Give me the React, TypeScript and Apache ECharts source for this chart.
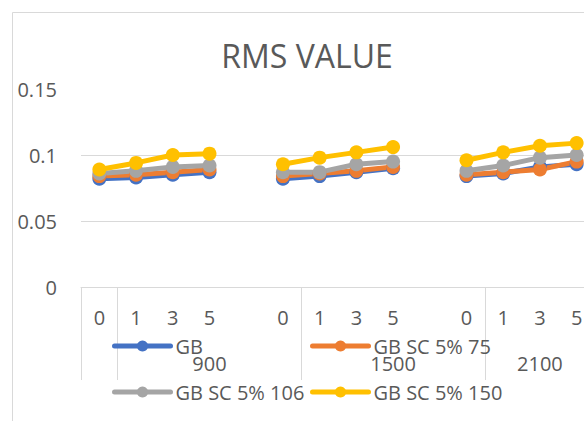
import React, { useEffect, useRef } from "react";
import * as echarts from "echarts";

const categories = ["0", "1", "3", "5", "", "0", "1", "3", "5", "", "0", "1", "3", "5"];
const groupLabels = ["", "", "", "900", "", "", "", "", "1500", "", "", "", "2100", ""];
const seriesNames = ["GB", "GB SC 5% 75", "GB SC 5% 106", "GB SC 5% 150"];
const gb = [0.082, 0.083, 0.085, 0.087, null, 0.082, 0.084, 0.087, 0.09, null, 0.084, 0.086, 0.091, 0.093];
const gb75 = [0.084, 0.085, 0.087, 0.089, null, 0.084, 0.086, 0.088, 0.091, null, 0.085, 0.087, 0.089, 0.095];
const gb106 = [0.086, 0.088, 0.091, 0.092, null, 0.087, 0.087, 0.093, 0.095, null, 0.088, 0.092, 0.098, 0.1];
const gb150 = [0.089, 0.094, 0.1, 0.101, null, 0.093, 0.098, 0.102, 0.106, null, 0.096, 0.102, 0.107, 0.109];
const yTicks = [0, 0.05, 0.1, 0.15];
const groupStarts = [0, 1, 6, 11];

const colors = ["#4472C4", "#ED7D31", "#A5A5A5", "#FFC000"];
const FONT = "Open Sans";
const TXT = "#595959";

export default function App() {
  const ref = useRef<HTMLDivElement>(null);
  useEffect(() => {
    if (!ref.current) return;
    const chart = echarts.init(ref.current, undefined, { renderer: "svg" });
    const data = [gb, gb75, gb106, gb150];
    const legendPos = [
      { left: 107, top: 331 },
      { left: 305, top: 331 },
      { left: 107, top: 377 },
      { left: 305, top: 377 },
    ];
    chart.setOption({
      animation: false,
      backgroundColor: "#ffffff",
      title: {
        text: "RMS VALUE",
        left: 302,
        top: 34,
        textAlign: "center",
        textStyle: { fontFamily: FONT, fontSize: 32, fontWeight: "normal", color: TXT },
      },
      graphic: [
        {
          type: "rect",
          shape: { x: 12.5, y: 12.5, width: 700, height: 500 },
          style: { fill: "none", stroke: "#d9d9d9", lineWidth: 1 },
          silent: true,
        },
      ],
      legend: seriesNames.map((n, i) => ({
        data: [n],
        left: legendPos[i].left,
        top: legendPos[i].top,
        itemWidth: 56,
        itemHeight: 14,
        selectedMode: false,
        lineStyle: { width: 5 },
        textStyle: { fontFamily: FONT, fontSize: 20, color: TXT },
      })),
      grid: { left: 81, top: 89, width: 514, height: 198, containLabel: false },
      xAxis: [
        {
          type: "category",
          data: categories,
          boundaryGap: true,
          axisLine: { show: true, lineStyle: { color: "#d9d9d9", width: 1 } },
          axisTick: {
            show: true,
            length: 93,
            interval: (idx: number) => groupStarts.indexOf(idx) >= 0,
            lineStyle: { color: "#d9d9d9", width: 1 },
          },
          axisLabel: { interval: 0, margin: 20, fontFamily: FONT, fontSize: 20, color: TXT },
          splitLine: { show: false },
        },
        {
          type: "category",
          data: groupLabels,
          position: "bottom",
          offset: 0,
          boundaryGap: true,
          axisLine: { show: false },
          axisTick: { show: false },
          axisLabel: { interval: 0, margin: 66, fontFamily: FONT, fontSize: 20, color: TXT },
          splitLine: { show: false },
        },
      ],
      yAxis: {
        type: "value",
        min: 0,
        max: 0.15,
        interval: 0.05,
        axisLine: { show: false },
        axisTick: { show: false },
        axisLabel: {
          margin: 24,
          fontFamily: FONT,
          fontSize: 20,
          color: TXT,
          formatter: (v: number) => {
            const t = yTicks.find((x) => Math.abs(x - v) < 1e-9);
            return String(t !== undefined ? t : +v.toFixed(2));
          },
        },
        splitLine: { show: true, showMaxLine: false, lineStyle: { color: "#d9d9d9", width: 1 } },
      },
      series: data.map((d, i) => ({
        name: seriesNames[i],
        type: "line",
        data: d,
        xAxisIndex: 0,
        yAxisIndex: 0,
        symbol: "circle",
        symbolSize: 14,
        showSymbol: true,
        connectNulls: false,
        color: colors[i],
        lineStyle: { width: 5, color: colors[i], cap: "round", join: "round" },
        itemStyle: { color: colors[i] },
      })),
    });
    return () => chart.dispose();
  }, []);
  return (
    <div style={{ position: "fixed", left: 0, top: 0, width: 584, height: 421, overflow: "hidden", background: "#fff" }}>
      <div ref={ref} style={{ position: "absolute", left: 0, top: 0, width: 620, height: 421 }} />
    </div>
  );
}
